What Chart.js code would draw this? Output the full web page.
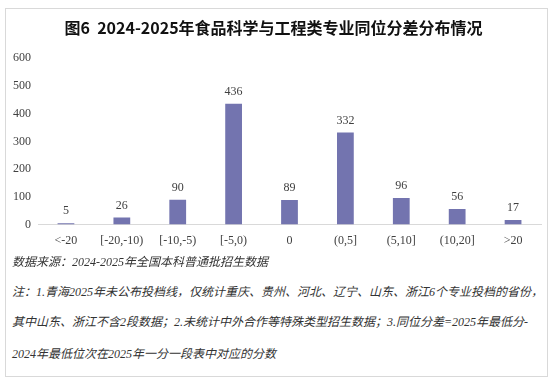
<!DOCTYPE html>
<html>
<head>
<meta charset="utf-8">
<script src="https://cdn.jsdelivr.net/npm/chart.js@4"></script>
<style>
    body { margin: 0; background: #fff; width: 553px; height: 382px; overflow: hidden; }
    #frame {
        position: absolute; left: 5px; top: 8px; width: 541px; height: 367px;
        border: 1px solid #d9d9d9; background: #fff;
    }
    #chart-wrap { position: absolute; left: 0; top: 0; width: 541px; height: 253px; }
    .note {
        position: absolute; left: 6px; white-space: nowrap;
        font-family: 'Liberation Serif', 'Noto Sans CJK SC', serif;
        font-style: italic; font-size: 12px; color: #333;
    }
</style>
</head>
<body>
<div id="frame">
    <div id="chart-wrap"><canvas id="dist-chart"></canvas></div>
    <div class="note" style="top:243px">数据来源：2024-2025年全国本科普通批招生数据</div>
    <div class="note" style="top:273px">注：1.青海2025年未公布投档线，仅统计重庆、贵州、河北、辽宁、山东、浙江6个专业投档的省份，</div>
    <div class="note" style="top:303px">其中山东、浙江不含2段数据；2.未统计中外合作等特殊类型招生数据；3.同位分差=2025年最低分-</div>
    <div class="note" style="top:335px">2024年最低位次在2025年一分一段表中对应的分数</div>
</div>
<script>
var labels = ['<-20', '[-20,-10)', '[-10,-5)', '[-5,0)', '0', '(0,5]', '(5,10]', '(10,20]', '>20']
var counts = [5, 26, 90, 436, 89, 332, 96, 56, 17]
var yTicks = [0, 100, 200, 300, 400, 500, 600]

var serif = "'Liberation Serif', 'Noto Sans CJK SC', serif"

// values above the bars
var barValues = {
    id: 'barValues',
    afterDatasetsDraw: function (chart) {
        var ctx = chart.ctx
        var meta = chart.getDatasetMeta(0)
        ctx.save()
        ctx.font = '12px ' + serif
        ctx.fillStyle = '#404040'
        ctx.textAlign = 'center'
        ctx.textBaseline = 'bottom'
        meta.data.forEach(function (bar, i) {
            ctx.fillText(chart.data.datasets[0].data[i], bar.x, bar.y - 6)
        })
        ctx.restore()
    }
}

var ctx = document.getElementById('dist-chart').getContext('2d')
new Chart(ctx, {
    type: 'bar',
    data: {
        labels: labels,
        datasets: [{
            label: '专业数',
            backgroundColor: '#7374AF',
            data: counts,
            barPercentage: 0.3,
            categoryPercentage: 1
        }]
    },
    plugins: [barValues],
    options: {
        responsive: true,
        maintainAspectRatio: false,
        animation: false,
        layout: { padding: { left: 0, right: 6, top: 0, bottom: 5 } },
        plugins: {
            legend: { display: false },
            tooltip: { enabled: false },
            title: {
                display: true,
                text: '图6  2024-2025年食品科学与工程类专业同位分差分布情况',
                color: '#111',
                font: { family: "'Noto Sans CJK SC', 'Liberation Serif', serif", size: 16, weight: 'bold' },
                padding: { top: 9, bottom: 21 }
            }
        },
        scales: {
            y: {
                min: 0,
                max: 600,
                afterBuildTicks: function (axis) {
                    axis.ticks = yTicks.map(function (v) { return { value: v } })
                },
                grid: { display: false, drawTicks: false },
                border: { display: false },
                ticks: {
                    padding: 7,
                    color: '#404040',
                    font: { family: serif, size: 12 }
                }
            },
            x: {
                grid: { display: false, drawTicks: false },
                border: { display: true, color: '#d9d9d9' },
                ticks: {
                    padding: 9,
                    color: '#404040',
                    maxRotation: 0,
                    autoSkip: false,
                    font: { family: serif, size: 12 }
                }
            }
        }
    }
});
</script>
</body>
</html>
